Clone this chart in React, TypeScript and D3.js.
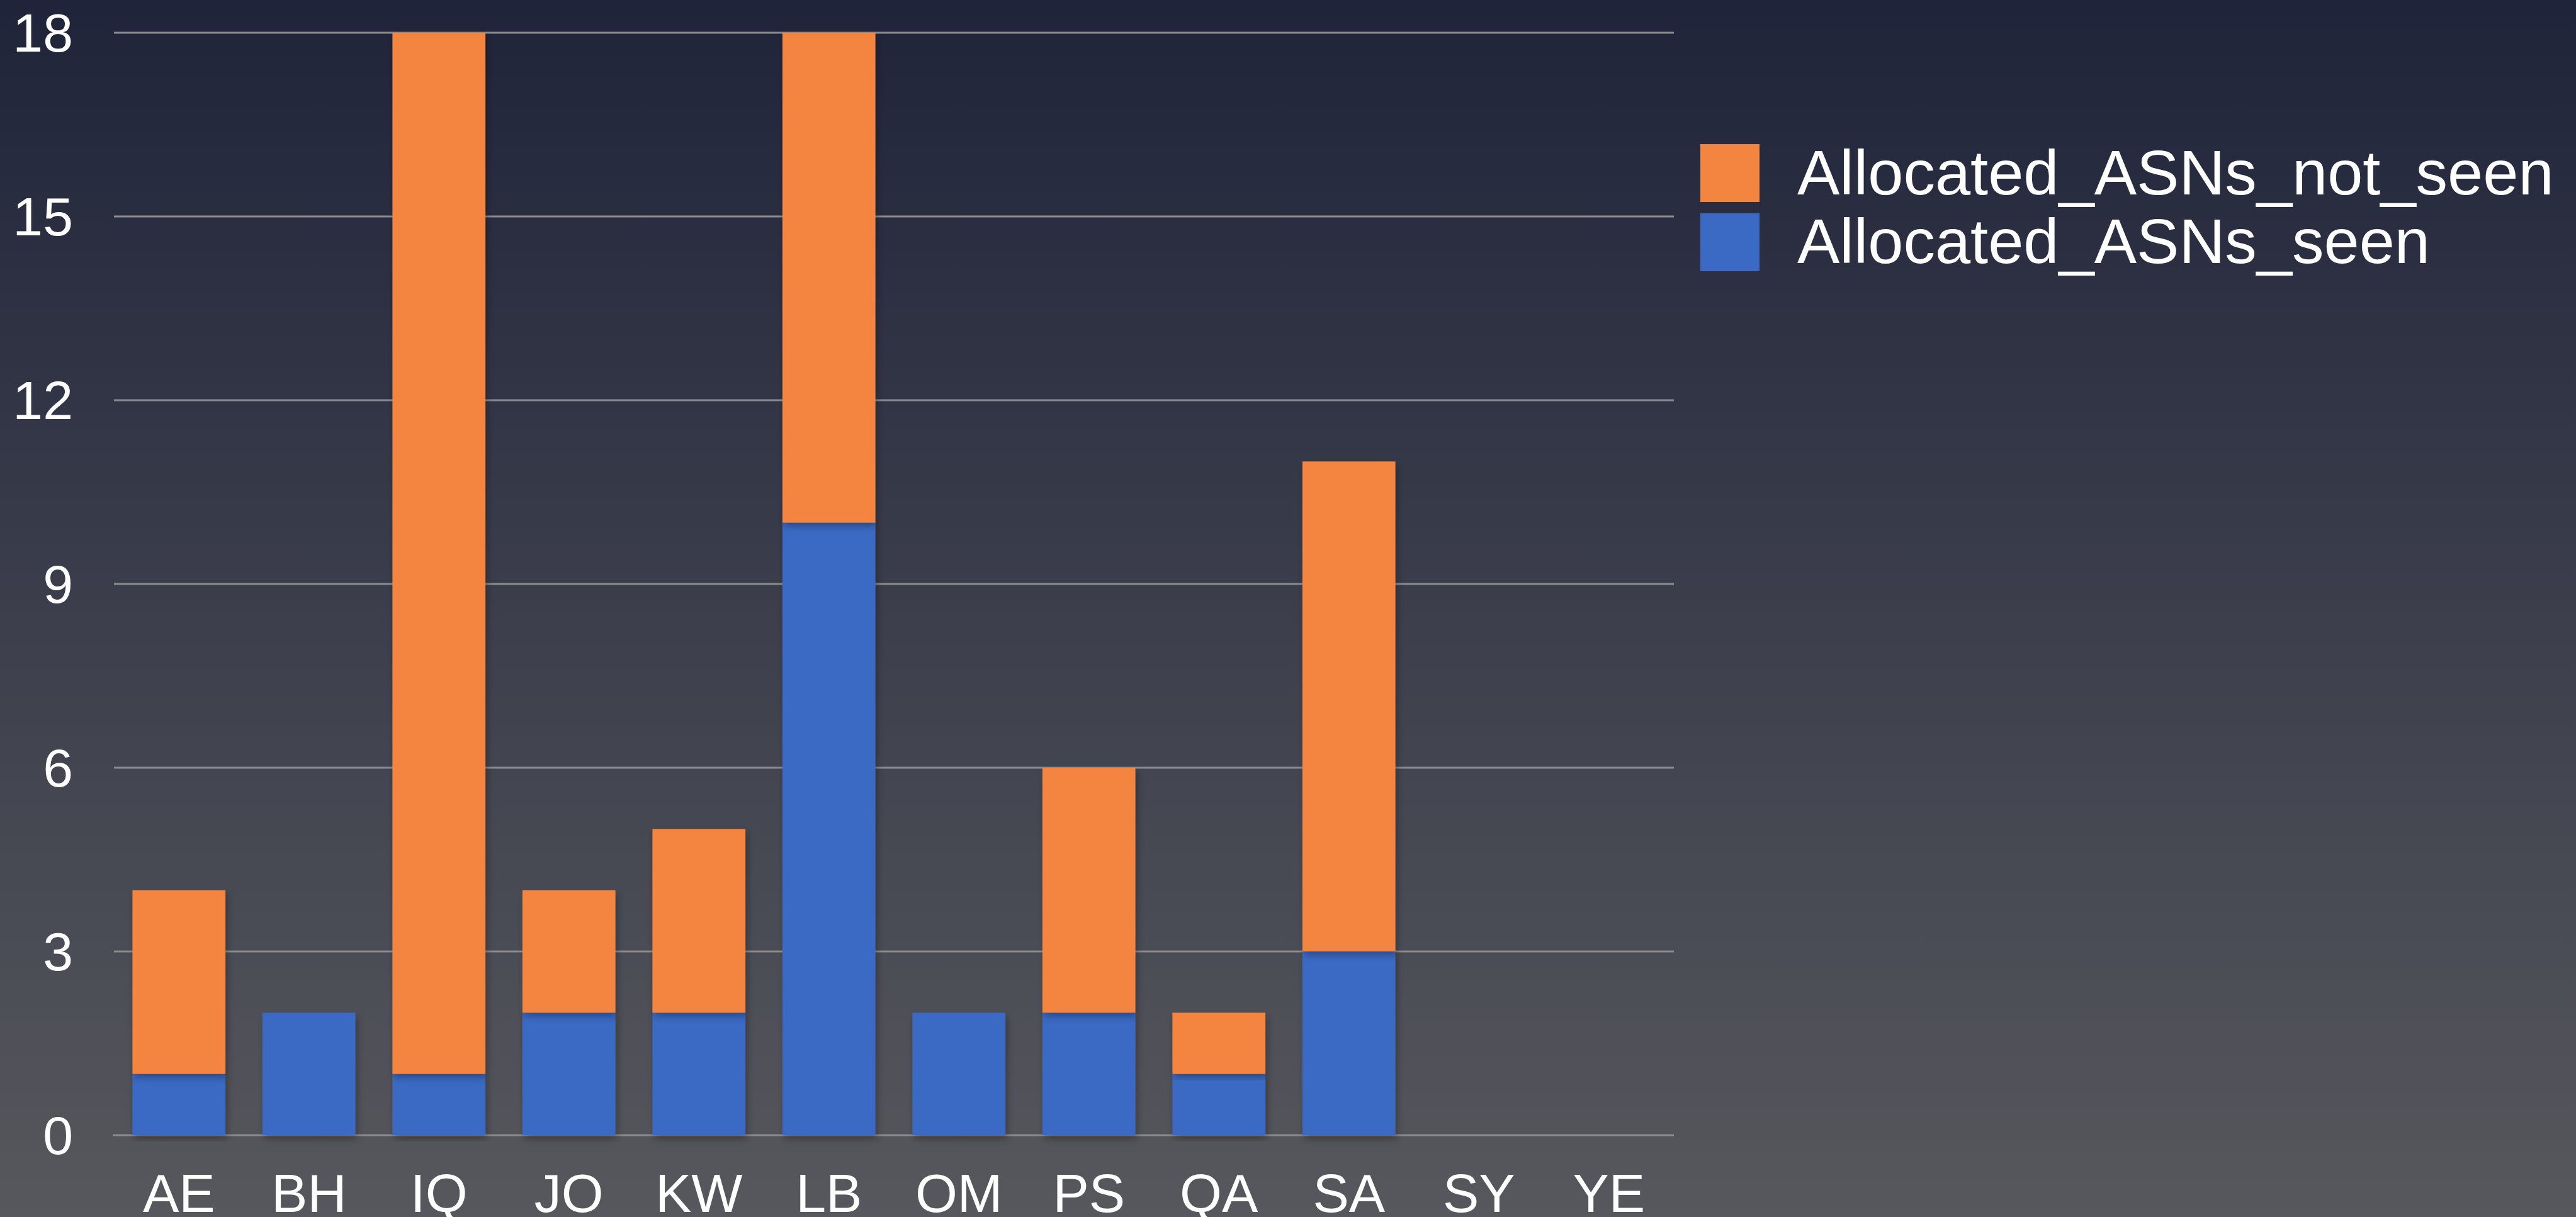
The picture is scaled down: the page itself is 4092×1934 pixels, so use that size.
import React from "react";
import * as d3 from "d3";

const categories = ["AE", "BH", "IQ", "JO", "KW", "LB", "OM", "PS", "QA", "SA", "SY", "YE"];
const seenValues = [1, 2, 1, 2, 2, 10, 2, 2, 1, 3, 0, 0];
const notSeenValues = [3, 0, 17, 2, 3, 8, 0, 4, 1, 8, 0, 0];
const yTicks = [0, 3, 6, 9, 12, 15, 18];
const seriesNames = ["Allocated_ASNs_not_seen", "Allocated_ASNs_seen"];
const seriesColors = ["#F38540", "#3A6AC4"];

const W = 4092;
const H = 1934;
const plotLeft = 181;
const plotRight = 2659;
const plotTop = 52;
const plotBottom = 1804;

export default function App() {
  const x = d3
    .scaleBand<string>()
    .domain(categories)
    .range([plotLeft, plotRight])
    .paddingInner(0.285)
    .paddingOuter(0.1425);
  const y = d3.scaleLinear().domain([0, 18]).range([plotBottom, plotTop]);

  const rows = categories.map((c, i) => ({ cat: c, seen: seenValues[i], notSeen: notSeenValues[i] }));
  const stack = d3.stack<any>().keys(["seen", "notSeen"])(rows);
  const keyColor: Record<string, string> = { seen: seriesColors[1], notSeen: seriesColors[0] };

  const font = "'Liberation Sans', Arial, Helvetica, sans-serif";

  return (
    <svg
      width={W}
      height={H}
      style={{ position: "absolute", left: 0, top: 0, display: "block" }}
    >
      <defs>
        <linearGradient id="bg" x1="0" y1="0" x2="0" y2="1">
          <stop offset="0%" stopColor="#20243a" />
          <stop offset="100%" stopColor="#57585d" />
        </linearGradient>
        <filter id="shadow" x="-20%" y="-5%" width="140%" height="115%">
          <feDropShadow dx="3" dy="6" stdDeviation="6" floodColor="#000" floodOpacity="0.3" />
        </filter>
      </defs>
      <rect x={0} y={0} width={W} height={H} fill="url(#bg)" />

      {yTicks.map((t) => (
        <g key={t}>
          <line
            x1={plotLeft - (t === 0 ? 2 : 0)}
            x2={plotRight}
            y1={y(t)}
            y2={y(t)}
            stroke="#8c8c8e"
            strokeWidth={3}
          />
          <text
            x={116}
            y={y(t)}
            textAnchor="end"
            dominantBaseline="central"
            fill="#ffffff"
            fontFamily={font}
            fontSize={86}
          >
            {t}
          </text>
        </g>
      ))}

      {stack.map((layer) => (
        <g key={layer.key} fill={keyColor[layer.key]}>
          {layer.map((d, i) => {
            const h = y(d[0]) - y(d[1]);
            if (h <= 0) return null;
            return (
              <rect
                key={i}
                x={x(categories[i])}
                y={y(d[1])}
                width={x.bandwidth()}
                height={h}
                filter="url(#shadow)"
              />
            );
          })}
        </g>
      ))}

      {categories.map((c) => (
        <text
          key={c}
          x={(x(c) as number) + x.bandwidth() / 2}
          y={1926}
          textAnchor="middle"
          fill="#ffffff"
          fontFamily={font}
          fontSize={86}
        >
          {c}
        </text>
      ))}

      {seriesNames.map((name, i) => (
        <g key={name}>
          <rect x={2701} y={229 + i * 110} width={94} height={92} fill={seriesColors[i]} />
          <text
            x={2855}
            y={309 + i * 109}
            fill="#ffffff"
            fontFamily={font}
            fontSize={101}
          >
            {name}
          </text>
        </g>
      ))}
    </svg>
  );
}
